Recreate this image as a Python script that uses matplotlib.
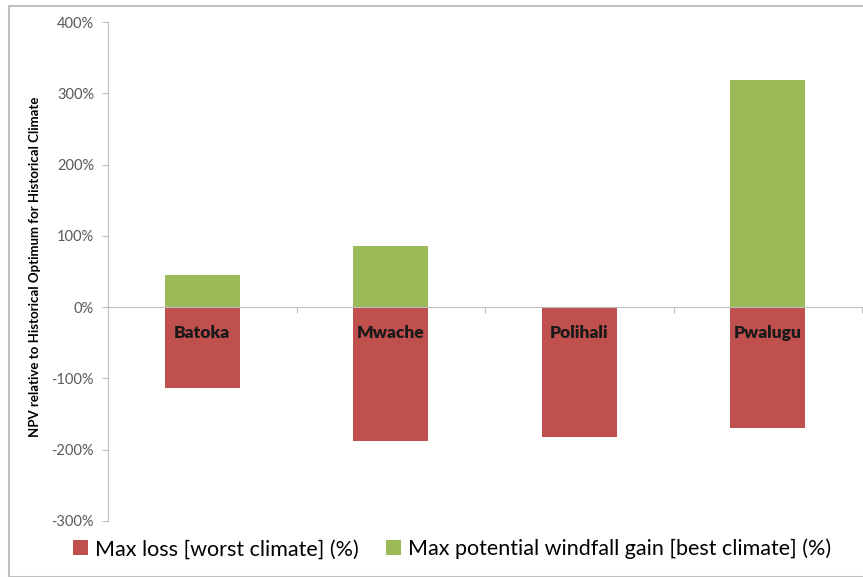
import matplotlib.pyplot as plt
from matplotlib.ticker import FuncFormatter
from matplotlib.patches import Rectangle

# data (percent)
dams = ['Batoka', 'Mwache', 'Polihali', 'Pwalugu']
max_loss = [-114, -188, -182, -170]
max_gain = [45, 86, 0, 318]
yticks = [-300, -200, -100, 0, 100, 200, 300, 400]

red = '#C0504D'
green = '#9BBB59'
plt.rcParams['font.family'] = ['Lato', 'DejaVu Sans']

fig = plt.figure(figsize=(8.63, 5.77), dpi=100)
ax = fig.add_axes([108/863, 1 - 521/577, 754/863, (521 - 22)/577])

x = range(len(dams))
ax.bar(x, max_loss, width=0.4, color=red, label='Max loss [worst climate] (%)')
ax.bar(x, max_gain, width=0.4, color=green, label='Max potential windfall gain [best climate] (%)')

# category names sit just under the zero line
for i, name in enumerate(dams):
    ax.text(i, -36, name, ha='center', va='center', fontsize=12.5, fontweight='heavy', color='#1a1a1a')

ax.set_xlim(-0.5, 3.5)
ax.set_ylim(-300, 400)
ax.set_yticks(yticks)
ax.yaxis.set_major_formatter(FuncFormatter(lambda v, p: '%d%%' % v))
ax.tick_params(axis='y', colors='#BFBFBF', labelcolor='#595959', labelsize=10.5, length=4, pad=6)

ax.set_xticks([0.5, 1.5, 2.5, 3.5])
ax.set_xticklabels([])
ax.tick_params(axis='x', colors='#BFBFBF', length=4, direction='out')

for s in ['top', 'right']:
    ax.spines[s].set_visible(False)
ax.spines['bottom'].set_position(('data', 0))
ax.spines['bottom'].set_color('#BFBFBF')
ax.spines['left'].set_color('#BFBFBF')

fig.text(35/863, 1 - 267/577, 'NPV relative to Historical Optimum for Historical Climate',
         rotation=90, ha='center', va='center', fontsize=9.5, fontweight='bold', color='black')

fig.legend(loc='center', bbox_to_anchor=(452/863, 1 - 549/577), ncol=2, frameon=False,
           fontsize=15.5, handlelength=0.7, handleheight=0.7, handletextpad=0.3, columnspacing=1.3)

# thin grey frame round the whole chart
fig.patches.append(Rectangle((9/863, 0), 1, 1 - 6/577, transform=fig.transFigure,
                             fill=False, edgecolor='#BFBFBF', linewidth=1.5))

fig.savefig('out.png', dpi=100)
